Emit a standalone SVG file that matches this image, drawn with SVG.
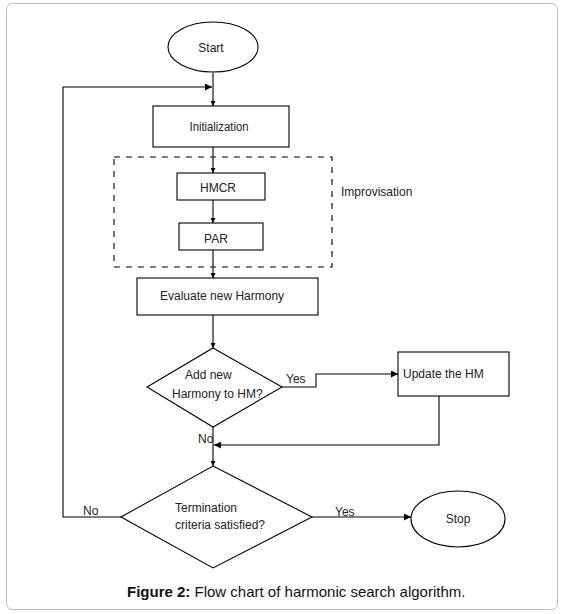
<svg xmlns="http://www.w3.org/2000/svg" width="564" height="614" viewBox="0 0 564 614">
<style>
.s{fill:none;stroke:#000;stroke-width:1.1}
.b{fill:#fff;stroke:#000;stroke-width:1.1}
.t{font-family:"Liberation Sans",Arial,sans-serif;font-size:12px;fill:#222}
.c{font-family:"Liberation Sans",Arial,sans-serif;font-size:15px;fill:#111}
</style>
<defs>
<marker id="a" viewBox="0 0 10 10" refX="10" refY="5" markerWidth="8" markerHeight="7" markerUnits="userSpaceOnUse" orient="auto"><path d="M0,0 L10,5 L0,10 Z" fill="#000"/></marker>
<marker id="sm" viewBox="0 0 10 10" refX="10" refY="5" markerWidth="5" markerHeight="5" markerUnits="userSpaceOnUse" orient="auto"><path d="M0,0 L10,5 L0,10 Z" fill="#000"/></marker>
</defs>
<rect x="6.5" y="3.5" width="551" height="606" rx="6" fill="#fff" stroke="#bbb"/>
<g id="connectors">
<path class="s" d="M213,73 V106" marker-end="url(#sm)"/>
<path class="s" d="M121,517 H63 V87 H212" marker-end="url(#a)"/>
<path class="s" d="M213,147 V173" marker-end="url(#sm)"/>
<path class="s" d="M213,200 V223" marker-end="url(#sm)"/>
<path class="s" d="M213,250 V278" marker-end="url(#sm)"/>
<path class="s" d="M213,315 V348" marker-end="url(#sm)"/>
<path class="s" d="M282,387 H316 V374 H398" marker-end="url(#a)"/>
<path class="s" d="M439,396 V445 H214" marker-end="url(#a)"/>
<path class="s" d="M213,427 V466" marker-end="url(#sm)"/>
<path class="s" d="M312,517 H411" marker-end="url(#a)"/>
<text class="t" x="286" y="383">Yes</text>
<text class="t" x="198" y="443">No</text>
<text class="t" x="335" y="516">Yes</text>
<text class="t" x="83" y="515">No</text>
</g>
<g id="improvisation">
<rect x="114" y="157" width="218" height="110" fill="none" stroke="#000" stroke-width="1.1" stroke-dasharray="6,6"/>
<text class="t" x="341" y="196">Improvisation</text>
</g>
<g id="start">
<ellipse class="b" cx="213" cy="47" rx="45" ry="25"/>
<text class="t" x="211" y="52" text-anchor="middle">Start</text>
</g>
<g id="init">
<rect class="b" x="153" y="106" width="136" height="41"/>
<text class="t" x="219" y="131" text-anchor="middle" textLength="59" lengthAdjust="spacingAndGlyphs">Initialization</text>
</g>
<g id="hmcr">
<rect class="b" x="177" y="173" width="88" height="27"/>
<text class="t" x="218" y="192" text-anchor="middle">HMCR</text>
</g>
<g id="par">
<rect class="b" x="179" y="223" width="84" height="27"/>
<text class="t" x="216" y="243" text-anchor="middle">PAR</text>
</g>
<g id="evaluate">
<rect class="b" x="137" y="278" width="181" height="37"/>
<text class="t" x="160" y="300">Evaluate new Harmony</text>
</g>
<g id="add">
<polygon class="b" points="213,348 282,387 213,427 147,387"/>
<text class="t" x="185" y="379">Add new</text>
<text class="t" x="172" y="398">Harmony to HM?</text>
</g>
<g id="update">
<rect class="b" x="398" y="352" width="111" height="44"/>
<text class="t" x="403" y="378">Update the HM</text>
</g>
<g id="termination">
<polygon class="b" points="213,466 312,517 213,568 121,517"/>
<text class="t" x="175" y="512">Termination</text>
<text class="t" x="175" y="529">criteria satisfied?</text>
</g>
<g id="stop">
<ellipse class="b" cx="458" cy="519" rx="47" ry="28"/>
<text class="t" x="458" y="523" text-anchor="middle">Stop</text>
</g>
<text class="c" x="127" y="597"><tspan font-weight="bold">Figure 2:</tspan> Flow chart of harmonic search algorithm.</text>
</svg>
